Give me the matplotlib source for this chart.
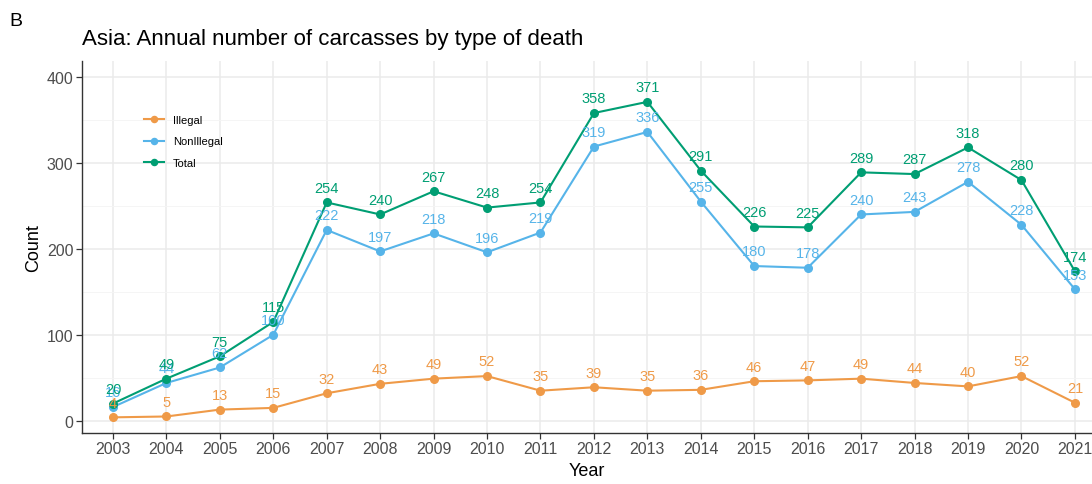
import matplotlib.pyplot as plt
import numpy as np

plt.rcParams['font.family'] = ['Liberation Sans', 'DejaVu Sans']

# 연도별 폐사체 수
years = list(range(2003, 2022))
illegal = [4, 5, 13, 15, 32, 43, 49, 52, 35, 39, 35, 36, 46, 47, 49, 44, 40, 52, 21]
non_illegal = [16, 44, 62, 100, 222, 197, 218, 196, 219, 319, 336, 255, 180, 178, 240, 243, 278, 228, 153]
total = [20, 49, 75, 115, 254, 240, 267, 248, 254, 358, 371, 291, 226, 225, 289, 287, 318, 280, 174]

series = [('Illegal', illegal, '#EF9A48'),
          ('NonIllegal', non_illegal, '#56B4E9'),
          ('Total', total, '#009E73')]

fig = plt.figure(figsize=(10.92, 4.85), dpi=100)
ax = fig.add_axes([0.0748, 0.105, 0.9252, 0.768])

for name, vals, col in series:
    ax.plot(years, vals, color=col, linewidth=1.5, marker='o', markersize=5.5, label=name, zorder=3)
    for x, y in zip(years, vals):
        ax.annotate(str(y), (x, y), xytext=(0, 5.5), textcoords='offset points',
                    ha='center', va='bottom', color=col, fontsize=10.5, zorder=4)

ax.set_xlim(2003 - 0.585, 2021 + 0.32)
ax.set_ylim(-14.3, 419)
ax.set_xticks(years)
ax.set_yticks([0, 100, 200, 300, 400])
ax.set_yticks([50, 150, 250, 350], minor=True)
ax.grid(which='major', color='#EBEBEB', linewidth=1.1)
ax.grid(which='minor', axis='y', color='#F4F4F4', linewidth=0.6)
ax.set_axisbelow(True)
ax.tick_params(axis='both', which='major', labelsize=11.5, labelcolor='#4D4D4D',
               color='#333333', length=4, width=0.9, pad=2)
ax.tick_params(axis='y', which='minor', length=0)

for s in ['top', 'right']:
    ax.spines[s].set_visible(False)
for s in ['left', 'bottom']:
    ax.spines[s].set_color('#333333')
    ax.spines[s].set_linewidth(1.0)

ax.set_xlabel('Year', fontsize=13, labelpad=4)
ax.set_ylabel('Count', fontsize=13, labelpad=3)

ax.legend(loc='upper left', bbox_to_anchor=(0.052, 0.88), frameon=False, fontsize=8,
          handlelength=1.8, labelspacing=1.0, markerscale=0.8)

fig.text(0.0085, 0.955, 'B', fontsize=14, va='center')
fig.text(0.075, 0.918, 'Asia: Annual number of carcasses by type of death', fontsize=16, va='center')

plt.savefig('out.png', dpi=100)
